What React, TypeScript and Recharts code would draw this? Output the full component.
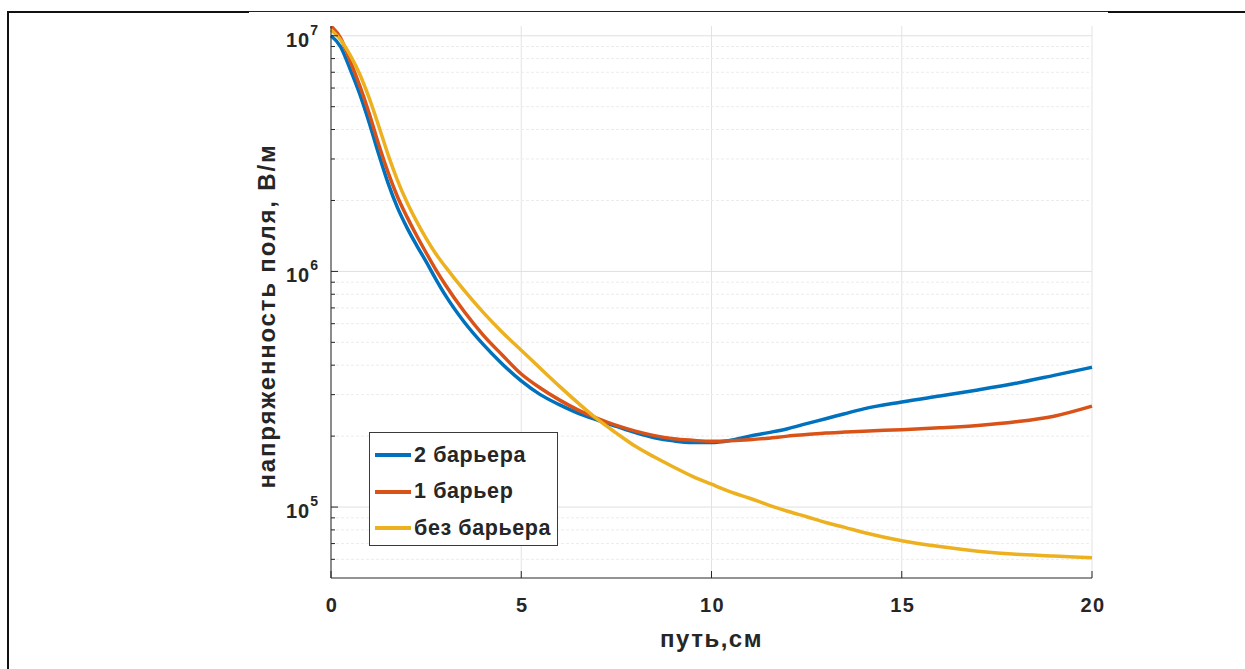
import React from "react";
import { LineChart, Line, XAxis, YAxis, CartesianGrid, ReferenceLine, Legend } from "recharts";

// путь, см
const pathCm = [0, 0.25, 0.5, 0.75, 1, 1.25, 1.5, 1.75, 2, 2.25, 2.5, 2.75, 3, 3.5, 4, 4.5, 5, 5.5, 6, 6.5, 7, 7.5, 8, 8.5, 9, 9.5, 10, 10.5, 11, 11.5, 12, 12.5, 13, 13.5, 14, 15, 16, 17, 18, 19, 20];

// напряженность поля, В/м
const twoBarriers = [1.0e7, 9.0e6, 7.24e6, 5.69e6, 4.3e6, 3.16e6, 2.37e6, 1.86e6, 1.53e6, 1.29e6, 1.1e6, 9.3e5, 7.95e5, 6.1e5, 4.9e5, 4.05e5, 3.43e5, 3.0e5, 2.72e5, 2.5e5, 2.34e5, 2.2e5, 2.07e5, 1.97e5, 1.91e5, 1.88e5, 1.88e5, 1.92e5, 2.0e5, 2.07e5, 2.15e5, 2.26e5, 2.37e5, 2.49e5, 2.61e5, 2.79e5, 2.96e5, 3.14e5, 3.35e5, 3.62e5, 3.92e5];
const oneBarrier = [1.1e7, 9.8e6, 7.85e6, 6.17e6, 4.7e6, 3.47e6, 2.63e6, 2.07e6, 1.7e6, 1.42e6, 1.2e6, 1.02e6, 8.8e5, 6.76e5, 5.37e5, 4.42e5, 3.67e5, 3.2e5, 2.85e5, 2.58e5, 2.38e5, 2.22e5, 2.1e5, 2.01e5, 1.95e5, 1.92e5, 1.9e5, 1.91e5, 1.93e5, 1.96e5, 2.0e5, 2.03e5, 2.06e5, 2.08e5, 2.1e5, 2.13e5, 2.17e5, 2.22e5, 2.3e5, 2.43e5, 2.68e5];
const noBarrier = [1.06e7, 9.62e6, 8.3e6, 6.9e6, 5.46e6, 4.16e6, 3.13e6, 2.43e6, 1.96e6, 1.63e6, 1.38e6, 1.19e6, 1.05e6, 8.3e5, 6.7e5, 5.52e5, 4.63e5, 3.88e5, 3.26e5, 2.76e5, 2.36e5, 2.06e5, 1.81e5, 1.63e5, 1.48e5, 1.35e5, 1.25e5, 1.16e5, 1.09e5, 1.02e5, 9.6e4, 9.1e4, 8.6e4, 8.2e4, 7.8e4, 7.2e4, 6.8e4, 6.5e4, 6.3e4, 6.2e4, 6.1e4];

const seriesNames = ["2 барьера", "1 барьер", "без барьера"];

const xTicks = [0, 5, 10, 15, 20];
const yMajor = [1e5, 1e6, 1e7];
const yMinor = [6e4, 7e4, 8e4, 9e4, 2e5, 3e5, 4e5, 5e5, 6e5, 7e5, 8e5, 9e5, 2e6, 3e6, 4e6, 5e6, 6e6, 7e6, 8e6, 9e6];

const COLORS = { two: "#0072BD", one: "#D95319", none: "#EDB120" };
const FONT = "'Liberation Sans', Arial, Helvetica, sans-serif";
const TEXT = "#262626";

const data = pathCm.map((x, i) => ({
  x,
  two: twoBarriers[i],
  one: oneBarrier[i],
  none: noBarrier[i],
}));

const allYTicks = [...yMajor, ...yMinor].sort((a, b) => a - b);

function YTick(props: any) {
  const { x, y, payload } = props;
  const v = payload.value;
  const major = yMajor.includes(v);
  const exp = Math.round(Math.log10(v));
  return (
    <g>
      <line x1={x} x2={x + (major ? 7 : 4)} y1={y} y2={y} stroke={TEXT} strokeWidth={1} />
      {major && (
        <text x={x - 12} y={y + 11} textAnchor="end" fill={TEXT} fontFamily={FONT} fontWeight="bold" fontSize={20} letterSpacing={1}>
          10<tspan dy={-12} fontSize={14}>{exp}</tspan>
        </text>
      )}
    </g>
  );
}

function XTick(props: any) {
  const { x, y, payload } = props;
  return (
    <g>
      <line x1={x} x2={x} y1={y} y2={y - 7} stroke={TEXT} strokeWidth={1} />
      <text x={x + 1} y={y + 34} textAnchor="middle" fill={TEXT} fontFamily={FONT} fontWeight="bold" fontSize={20} letterSpacing={1.5}>
        {payload.value}
      </text>
    </g>
  );
}

function YLabel(props: any) {
  const vb = props.viewBox;
  const cx = vb.x + vb.width - 56;
  const cy = 316;
  return (
    <text x={cx} y={cy} transform={`rotate(-90 ${cx} ${cy})`} textAnchor="middle" fill={TEXT} fontFamily={FONT} fontWeight="bold" fontSize={24} letterSpacing={1.8}>
      напряженность поля, В/м
    </text>
  );
}

function XLabel(props: any) {
  const vb = props.viewBox;
  return (
    <text x={vb.x + vb.width / 2} y={vb.y + 69} textAnchor="middle" fill={TEXT} fontFamily={FONT} fontWeight="bold" fontSize={24} letterSpacing={1.5}>
      путь,см
    </text>
  );
}

function LegendBox(props: any) {
  const items = [...(props.payload || [])].sort(
    (a: any, b: any) => seriesNames.indexOf(a.value) - seriesNames.indexOf(b.value)
  );
  return (
    <div style={{ width: 187, height: 112, border: "1px solid #3a3a3a", background: "#fff", boxSizing: "content-box" }}>
      {items.map((it: any, i: number) => (
        <div key={i} style={{ display: "flex", alignItems: "center", height: 36.5, marginTop: i === 0 ? 4 : 0 }}>
          <div style={{ width: 36, height: 4, background: it.color, marginLeft: 5, marginRight: 3 }} />
          <span style={{ fontFamily: FONT, fontWeight: "bold", fontSize: 21.5, letterSpacing: 0.6, color: TEXT, whiteSpace: "nowrap" }}>{it.value}</span>
        </div>
      ))}
    </div>
  );
}

export default function App() {
  return (
    <div style={{ position: "absolute", left: 0, top: 0, width: 1245, height: 669, background: "#fff" }}>
      <div style={{ position: "absolute", left: 8, top: 11, width: 241, height: 2, background: "#111" }} />
      <div style={{ position: "absolute", left: 249, top: 11, width: 859, height: 1, background: "#222" }} />
      <div style={{ position: "absolute", left: 1108, top: 11, width: 137, height: 2, background: "#111" }} />
      <div style={{ position: "absolute", left: 7, top: 11, width: 2, height: 658, background: "#111" }} />
      <LineChart width={1245} height={669} data={data} margin={{ top: 26, right: 153, bottom: 21, left: 231 }}>
        <CartesianGrid horizontal={false} vertical stroke="#e3e3e3" strokeWidth={1} />
        {yMinor.map((v) => (
          <ReferenceLine key={"m" + v} y={v} stroke="#ececec" strokeDasharray="3 2" ifOverflow="hidden" />
        ))}
        {yMajor.map((v) => (
          <ReferenceLine key={"M" + v} y={v} stroke="#e0e0e0" ifOverflow="hidden" />
        ))}
        <XAxis
          dataKey="x"
          type="number"
          domain={[0, 20]}
          ticks={xTicks}
          height={70}
          tickSize={0}
          tickMargin={0}
          tick={<XTick />}
          axisLine={{ stroke: TEXT, strokeWidth: 1 }}
          tickLine={false}
          label={<XLabel />}
        />
        <YAxis
          type="number"
          scale="log"
          domain={[5e4, 1.1e7]}
          allowDataOverflow
          ticks={allYTicks}
          interval={0}
          width={100}
          tickSize={0}
          tickMargin={0}
          tick={<YTick />}
          axisLine={{ stroke: TEXT, strokeWidth: 1 }}
          tickLine={false}
          label={<YLabel />}
        />
        <Legend
          layout="horizontal"
          verticalAlign="middle"
          align="center"
          content={<LegendBox />}
          wrapperStyle={{ position: "absolute", left: 369, top: 432, width: 189, height: 114 }}
        />
        <Line type="monotone" dataKey="two" name={seriesNames[0]} stroke={COLORS.two} strokeWidth={3.5} dot={false} isAnimationActive={false} />
        <Line type="monotone" dataKey="one" name={seriesNames[1]} stroke={COLORS.one} strokeWidth={3.5} dot={false} isAnimationActive={false} />
        <Line type="monotone" dataKey="none" name={seriesNames[2]} stroke={COLORS.none} strokeWidth={3.5} dot={false} isAnimationActive={false} />
      </LineChart>
    </div>
  );
}
